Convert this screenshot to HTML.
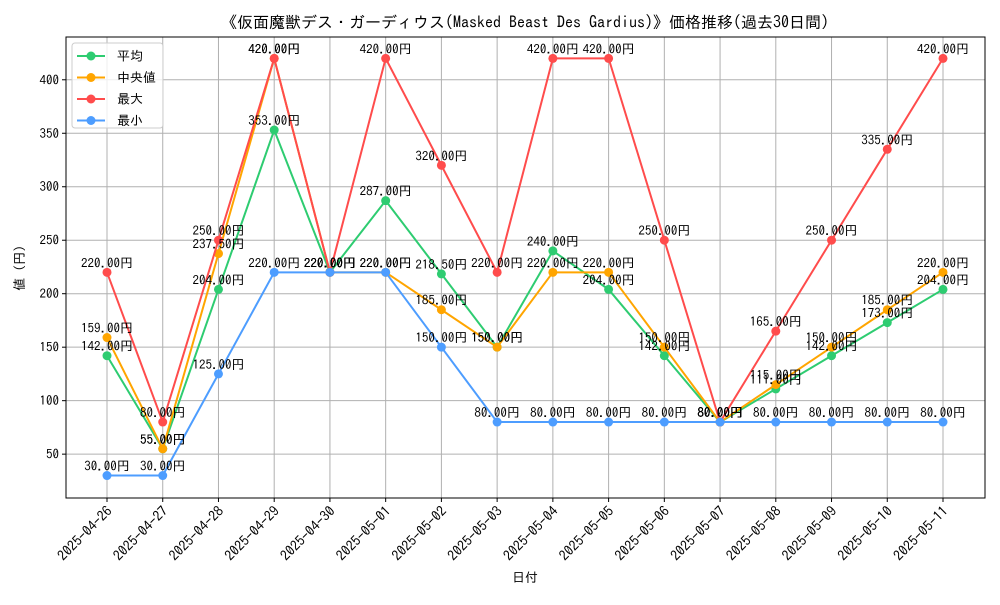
<!DOCTYPE html>
<html><head><meta charset="utf-8">
<style>
body{margin:0;background:#fff;}
svg text{font-family:"IPAGothic","Noto Sans CJK JP",sans-serif;}
</style></head>
<body>
<svg id="chart" width="1000" height="600" xmlns="http://www.w3.org/2000/svg">
<rect width="1000" height="600" fill="#fff"/>
<text x="525" y="28" font-size="16" text-anchor="middle">《仮面魔獣デス・ガーディウス(Masked Beast Des Gardius)》価格推移(過去30日間)</text>
<g id="grid"></g>
<g id="series"></g>
<g id="labels"></g>
<rect x="66" y="37" width="919" height="461" fill="none" stroke="#000" stroke-width="1"/>
<g id="axes"></g>
<text x="525" y="582" font-size="13" text-anchor="middle">日付</text>
<text transform="translate(24,268) rotate(-90)" font-size="13" text-anchor="middle">値 (円)</text>
<g>
<rect x="72" y="43" width="91" height="85" rx="3" fill="#fff" fill-opacity="0.8" stroke="#ccc"/>
</g>
<g id="legend-items"></g>
</svg>
<script>
const dates=["2025-04-26","2025-04-27","2025-04-28","2025-04-29","2025-04-30","2025-05-01","2025-05-02","2025-05-03","2025-05-04","2025-05-05","2025-05-06","2025-05-07","2025-05-08","2025-05-09","2025-05-10","2025-05-11"];
const avgVals=[142,55,204,353,220,287,218.5,150,240,204,142,80,111,142,173,204];
const medVals=[159,55,237.5,420,220,220,185,150,220,220,150,80,115,150,185,220];
const maxVals=[220,80,250,420,220,420,320,220,420,420,250,80,165,250,335,420];
const minVals=[30,30,125,220,220,220,150,80,80,80,80,80,80,80,80,80];
const yTicks=[50,100,150,200,250,300,350,400];
const seriesNames=["平均","中央値","最大","最小"];
const NS="http://www.w3.org/2000/svg";
const L=66,R=985,T=37,B=498,Y0=9,Y1=440;
function xs(i){return 107+i*(943-107)/(dates.length-1);}
function ys(v){return B-(v-Y0)/(Y1-Y0)*(B-T);}
function mk(tag,attrs,parent){const e=document.createElementNS(NS,tag);for(const k in attrs)e.setAttribute(k,attrs[k]);parent.appendChild(e);return e;}
const grid=document.getElementById('grid'),axes=document.getElementById('axes');
dates.forEach((d,i)=>{
 const g=mk('line',{x1:xs(i),x2:xs(i),y1:T,y2:B,stroke:'#b0b0b0','stroke-width':1},grid);
 
 
 mk('line',{x1:xs(i),x2:xs(i),y1:B,y2:B+4,stroke:'#000'},axes);
 const t=mk('text',{x:0,y:0,'font-size':14,'text-anchor':'end',transform:`translate(${xs(i)+6},${B+14}) rotate(-45)`},axes);
 t.textContent=d;
 
 
});
yTicks.forEach(v=>{
 const g=mk('line',{x1:L,x2:R,y1:ys(v),y2:ys(v),stroke:'#b0b0b0','stroke-width':1},grid);
 
 
 mk('line',{x1:L-4,x2:L,y1:ys(v),y2:ys(v),stroke:'#000'},axes);
 const t=mk('text',{x:L-7,y:ys(v)+4.5,'font-size':13,'text-anchor':'end'},axes);
 t.textContent=v;
 
 
});
const series=[[avgVals,'#2ecc71','avg'],[medVals,'#ffa500','median'],[maxVals,'#ff4c4c','max'],[minVals,'#4d9dff','min']];
const sg=document.getElementById('series'),lg=document.getElementById('labels');
series.forEach(([vals,col,nm])=>{
 const p=mk('polyline',{points:vals.map((v,i)=>xs(i)+','+ys(v)).join(' '),fill:'none',stroke:col,'stroke-width':2},sg);
 
 
 vals.forEach((v,i)=>{
  const c=mk('circle',{cx:xs(i),cy:ys(v),r:4.5,fill:col},sg);
  
  
  const t=mk('text',{x:xs(i),y:ys(v)-5,'font-size':13,'text-anchor':'middle'},lg);
  t.textContent=v.toFixed(2)+'円';
  
  
 });
});
const li=document.getElementById('legend-items');
series.forEach(([vals,col,nm],k)=>{
 const y=56+k*21.5;
 const g=mk('g',{},li);
 
 
 mk('line',{x1:77,x2:105,y1:y,y2:y,stroke:col,'stroke-width':2},g);
 mk('circle',{cx:91,cy:y,r:4.5,fill:col},g);
 const t=mk('text',{x:117,y:y+4.5,'font-size':13},g);
 t.textContent=seriesNames[k];
});
</script>
</body></html>
